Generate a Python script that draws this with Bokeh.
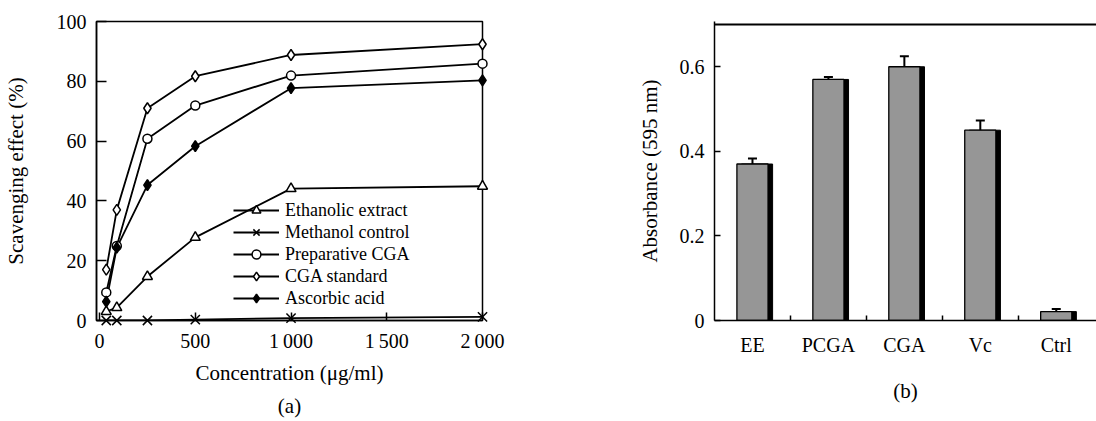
from bokeh.plotting import figure
from bokeh.layouts import row
from bokeh.models import (Legend, LegendItem, FixedTicker, Span, Whisker, Title,
                          ColumnDataSource, TeeHead)
from bokeh.transform import dodge
from bokeh.embed import file_html
from bokeh.resources import INLINE

# ---------------- data: panel (a) ----------------
concentration = [35, 90, 250, 500, 1000, 2000]
ethanolic_extract = [3.0, 4.3, 14.7, 27.8, 44.1, 44.9]
methanol_control = [0.0, 0.0, 0.0, 0.3, 0.8, 1.2]
preparative_cga = [9.4, 24.9, 60.8, 71.9, 81.9, 85.9]
cga_standard = [17.0, 37.0, 71.0, 81.7, 88.8, 92.4]
ascorbic_acid = [6.3, 24.4, 45.3, 58.3, 77.7, 80.3]
x_ticks_a = [0, 500, 1000, 1500, 2000]
x_tick_labels_a = ["0", "500", "1\u2009000", "1\u2009500", "2\u2009000"]
y_ticks_a = [0, 20, 40, 60, 80, 100]

# ---------------- data: panel (b) ----------------
categories = ["EE", "PCGA", "CGA", "Vc", "Ctrl"]
absorbance = [0.37, 0.57, 0.60, 0.45, 0.021]
abs_error = [0.013, 0.006, 0.025, 0.023, 0.006]
y_ticks_b = [0, 0.2, 0.4, 0.6]

FONT = "Liberation Serif"

def style_axes(p):
    for ax in (p.xaxis + p.yaxis):
        ax.axis_line_width = 1.5
        ax.axis_line_color = "black"
        ax.major_tick_line_color = "black"
        ax.major_tick_line_width = 1.5
        ax.major_tick_out = 0
        ax.minor_tick_line_color = None
        ax.major_label_text_font = FONT
        ax.major_label_text_font_size = "20px"
        ax.major_label_text_color = "black"
        ax.axis_label_text_font = FONT
        ax.axis_label_text_font_size = "21px"
        ax.axis_label_text_font_style = "normal"
        ax.axis_label_text_color = "black"
    p.xgrid.visible = False
    p.ygrid.visible = False

def panel_title(text, standoff):
    return Title(text=text, align="center", text_font=FONT, text_font_size="21px",
                 text_font_style="normal", text_color="black", standoff=standoff)

# ================= panel (a) =================
pa = figure(width=560, height=421, x_range=(-16, 2000), y_range=(0, 100),
            output_backend="svg", toolbar_location=None,
            min_border_left=94, min_border_right=78, min_border_top=21, min_border_bottom=101)
pa.outline_line_color = "black"
pa.outline_line_width = 1.5
style_axes(pa)
pa.xaxis.ticker = FixedTicker(ticks=x_ticks_a)
pa.xaxis.major_label_overrides = {t: l for t, l in zip(x_ticks_a, x_tick_labels_a)}
pa.xaxis.major_tick_in = 8
pa.xaxis.major_label_standoff = 9
pa.xaxis.axis_label = "Concentration (\u03bcg/ml)"
pa.xaxis.axis_label_standoff = 6
pa.yaxis.ticker = FixedTicker(ticks=y_ticks_a)
pa.yaxis.major_tick_in = 10
pa.yaxis.major_label_standoff = 10
pa.yaxis.axis_label = "Scavenging effect (%)"
pa.yaxis.axis_label_standoff = 26

series = [
    ("Ethanolic extract", ethanolic_extract, "triangle", "white", 10),
    ("Methanol control", methanol_control, "x", "black", 13),
    ("Preparative CGA", preparative_cga, "circle", "white", 9),
    ("CGA standard", cga_standard, "diamond", "white", 11),
    ("Ascorbic acid", ascorbic_acid, "diamond", "black", 11),
]
items = []
for name, vals, marker, fill, size in series:
    ln = pa.line(concentration, vals, line_color="black", line_width=1.8)
    sc = pa.scatter(concentration, vals, marker=marker, size=size, fill_color=fill,
                    line_color="black", line_width=1.5, level="overlay")
    items.append(LegendItem(label=name, renderers=[ln, sc]))

legend = Legend(items=items, location=(137, 11), padding=0, margin=0, spacing=0,
                border_line_color=None, background_fill_alpha=0,
                glyph_width=46, glyph_height=22, label_height=22, label_standoff=6,
                label_text_font=FONT, label_text_font_size="18px", label_text_color="black")
pa.add_layout(legend)
pa.add_layout(panel_title("(a)", 8), "below")

# ================= panel (b) =================
pb = figure(width=536, height=421, x_range=(-0.5, 4.53), y_range=(0, 0.707),
            output_backend="svg", toolbar_location=None,
            min_border_left=154, min_border_right=0, min_border_top=21, min_border_bottom=101)
pb.outline_line_color = None
style_axes(pb)
idx = list(range(len(categories)))
src = ColumnDataSource(dict(
    x=idx, top=absorbance,
    upper=[a + e for a, e in zip(absorbance, abs_error)],
    lower=[a - e for a, e in zip(absorbance, abs_error)],
))
pb.vbar(x=dodge("x", 0.06, range=pb.x_range), top="top", width=0.41, source=src,
        fill_color="black", line_color="black")
pb.vbar(x="x", top="top", width=0.41, source=src,
        fill_color="#969696", line_color="black", line_width=1.3)
pb.add_layout(Whisker(source=src, base="x", upper="upper", lower="lower",
                      line_color="black", line_width=2,
                      upper_head=TeeHead(size=9, line_width=2, line_color="black"),
                      lower_head=TeeHead(size=9, line_width=2, line_color="black")))
pb.add_layout(Span(location=0.7, dimension="width", line_color="black", line_width=2))

pb.xaxis.ticker = FixedTicker(ticks=idx, minor_ticks=[i + 0.5 for i in idx[:-1]])
pb.xaxis.major_label_overrides = {i: c for i, c in zip(idx, categories)}
pb.xaxis.major_tick_line_color = None
pb.xaxis.minor_tick_line_color = "black"
pb.xaxis.minor_tick_line_width = 1.5
pb.xaxis.minor_tick_in = 5
pb.xaxis.minor_tick_out = 0
pb.xaxis.major_label_standoff = 13
pb.yaxis.ticker = FixedTicker(ticks=y_ticks_b)
pb.yaxis.major_label_overrides = {0: "0"}
pb.yaxis.major_tick_in = 6
pb.yaxis.major_label_standoff = 10
pb.yaxis.axis_label = "Absorbance (595 nm)"
pb.yaxis.axis_label_standoff = 15
pb.add_layout(panel_title("(b)", 37), "below")

layout = row(pa, pb)
open("out.html", "w").write(file_html(layout, INLINE))
